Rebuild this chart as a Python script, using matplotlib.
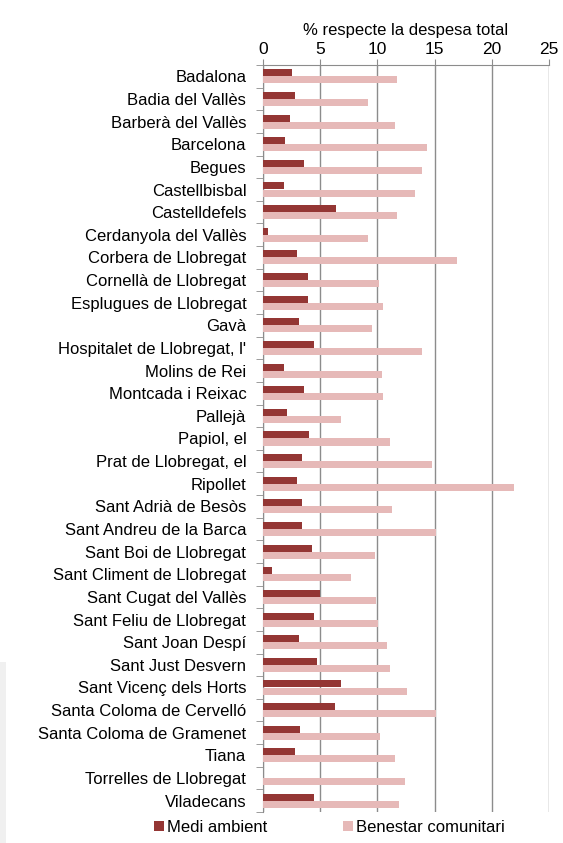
import matplotlib.pyplot as plt
import numpy as np
from matplotlib.patches import Rectangle

municipis = ['Badalona', 'Badia del Vallès', 'Barberà del Vallès', 'Barcelona', 'Begues',
             'Castellbisbal', 'Castelldefels', 'Cerdanyola del Vallès', 'Corbera de Llobregat',
             'Cornellà de Llobregat', 'Esplugues de Llobregat', 'Gavà',
             "Hospitalet de Llobregat, l'", 'Molins de Rei', 'Montcada i Reixac', 'Pallejà',
             'Papiol, el', 'Prat de Llobregat, el', 'Ripollet', 'Sant Adrià de Besòs',
             'Sant Andreu de la Barca', 'Sant Boi de Llobregat', 'Sant Climent de Llobregat',
             'Sant Cugat del Vallès', 'Sant Feliu de Llobregat', 'Sant Joan Despí',
             'Sant Just Desvern', 'Sant Vicenç dels Horts', 'Santa Coloma de Cervelló',
             'Santa Coloma de Gramenet', 'Tiana', 'Torrelles de Llobregat', 'Viladecans']

medi_ambient = [2.5, 2.8, 2.35, 1.95, 3.55, 1.8, 6.4, 0.45, 2.95, 3.9, 3.9, 3.15,
                4.45, 1.8, 3.55, 2.1, 4.0, 3.4, 2.95, 3.4, 3.4, 4.3, 0.75,
                5.0, 4.45, 3.15, 4.75, 6.8, 6.25, 3.25, 2.8, 0.0, 4.45]

benestar = [11.7, 9.2, 11.55, 14.35, 13.9, 13.3, 11.7, 9.2, 17.0, 10.1, 10.5, 9.5,
            13.9, 10.4, 10.5, 6.8, 11.1, 14.8, 21.9, 11.25, 15.1, 9.8, 7.7,
            9.9, 10.05, 10.85, 11.1, 12.6, 15.1, 10.25, 11.55, 12.45, 11.85]

plt.rcParams['font.family'] = ['Liberation Sans', 'DejaVu Sans']

fig = plt.figure(figsize=(5.63, 8.43), dpi=100)
fig.patches.append(Rectangle((0, 0), 0.01, 0.215, transform=fig.transFigure,
                             facecolor='#f0f0f0', edgecolor='none', zorder=0))
ax = fig.add_axes([263 / 563, 31 / 843, 286 / 563, 747 / 843])

y = np.arange(len(municipis))
h = 0.31
ax.barh(y - h / 2, medi_ambient, height=h, color='#943634', label='Medi ambient', zorder=3)
ax.barh(y + h / 2, benestar, height=h, color='#e6b9b8', label='Benestar comunitari', zorder=3)

ax.set_xlim(0, 25)
ax.set_ylim(len(municipis) - 0.5, -0.5)
ax.xaxis.tick_top()
ax.xaxis.set_label_position('top')
ax.set_xticks(np.arange(0, 26, 5))
ax.set_xlabel('% respecte la despesa total', fontsize=12, labelpad=5)
ax.grid(axis='x', color='#8c8c8c', linewidth=1, zorder=0)
ax.set_yticks(y)
ax.set_yticklabels(municipis)
ax.set_yticks(np.arange(-0.5, len(municipis), 1), minor=True)
ax.tick_params(axis='y', which='major', length=0, labelsize=12, pad=12)
ax.tick_params(axis='y', which='minor', length=5, color='#8c8c8c')
ax.tick_params(axis='x', labelsize=12.5, length=4, color='#8c8c8c', pad=2)
for s in ['bottom', 'right']:
    ax.spines[s].set_visible(False)
for s in ['top', 'left']:
    ax.spines[s].set_color('#8c8c8c')

fig.legend(loc='lower center', bbox_to_anchor=(0.585, -0.008), ncol=2, frameon=False,
           fontsize=12, handlelength=0.6, handleheight=0.6, handletextpad=0.2,
           columnspacing=4.5)

fig.savefig('out.png', dpi=100)
